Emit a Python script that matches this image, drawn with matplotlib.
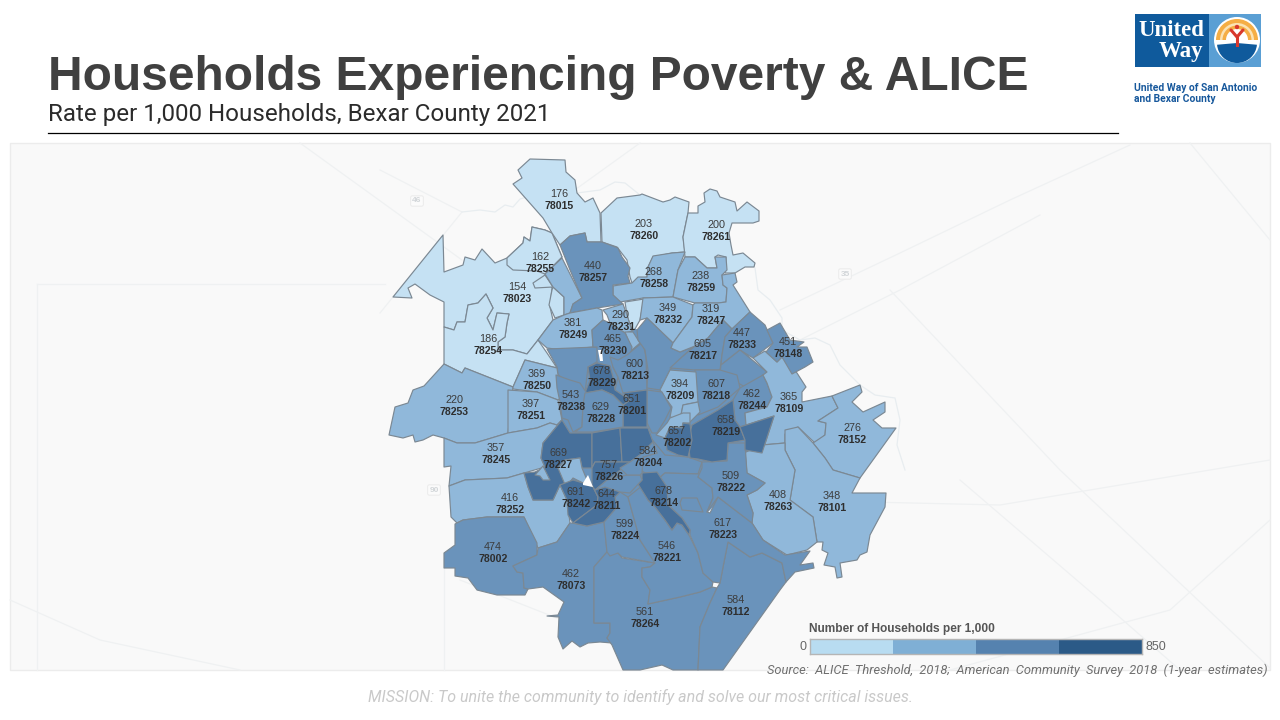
import matplotlib
matplotlib.use("Agg")
import matplotlib.pyplot as plt
from matplotlib.colors import BoundaryNorm, ListedColormap
from matplotlib.patches import Circle, Polygon, Rectangle, Wedge
import numpy as np

# labelled zip codes: code, rate, label position (pixels of the slide)
zips = ["78015", "78260", "78261", "78255", "78257", "78258", "78259", "78023", "78232", "78247",
        "78231", "78249", "78233", "78230", "78148", "78217", "78254", "78213", "78250", "78229",
        "78209", "78218", "78109", "78244", "78238", "78251", "78228", "78201", "78253", "78219",
        "78152", "78202", "78204", "78245", "78227", "78226", "78222", "78214", "78242", "78211",
        "78252", "78263", "78101", "78223", "78224", "78002", "78221", "78073", "78112", "78264"]
rates = [176, 203, 200, 162, 440, 268, 238, 154, 349, 319,
         290, 381, 447, 465, 451, 605, 186, 600, 369, 678,
         394, 607, 365, 462, 543, 397, 629, 651, 220, 658,
         276, 657, 584, 357, 669, 757, 509, 678, 691, 644,
         416, 408, 348, 617, 599, 474, 546, 462, 584, 561]
label_x = [559, 644, 716, 540, 593, 654, 701, 517, 668, 711,
           621, 573, 742, 613, 788, 703, 488, 635, 537, 602,
           680, 716, 789, 752, 571, 531, 601, 632, 454, 726,
           852, 677, 648, 496, 558, 609, 731, 664, 576, 607,
           510, 778, 832, 723, 625, 493, 667, 571, 736, 645]
label_y = [194, 224, 225, 257, 266, 272, 276, 287, 308, 309,
           315, 323, 333, 339, 342, 344, 339, 364, 374, 371,
           384, 384, 397, 394, 395, 404, 407, 399, 400, 420,
           428, 431, 451, 448, 453, 465, 476, 491, 492, 494,
           498, 495, 496, 523, 524, 547, 546, 574, 600, 612]

# areas the map shows without a label, rates are only a guess from their shade
other_zips = ["78256", "78248", "78240", "78216", "78212", "78254b", "78023b", "78023c", "78231b",
              "78207", "78237", "78210", "78203", "78239", "78264b", "78209b", "78209c", "78227b",
              "78227c", "78219b", "78220"]
other_rates = [300, 150, 500, 520, 560, 190, 155, 155, 300,
               720, 720, 560, 520, 510, 500, 380, 380, 330,
               330, 700, 560]

outlines = {
    "78023": [(393,297),(443,235),(444,272),(463,265),(465,257),(475,260),(482,249),(495,263),(507,258),(523,243),(524,237),(530,241),(532,227),(545,230),(552,233),(562,257),(545,274),(552,288),(550,307),(553,320),(538,340),(527,354),(513,350),(498,350),(498,342),(505,337),(507,323),(509,314),(497,313),(493,330),(487,318),(493,308),(486,294),(478,303),(468,305),(465,322),(457,322),(454,330),(444,327),(444,302),(430,295),(415,284),(408,288),(412,298)],
    "78254": [(444,327),(454,330),(457,322),(465,322),(468,305),(478,303),(486,294),(493,308),(487,318),(493,330),(497,313),(509,314),(507,323),(505,337),(498,342),(498,350),(513,350),(527,354),(538,340),(547,353),(557,368),(525,360),(513,387),(465,368),(462,373),(444,364)],
    "78255": [(507,258),(523,243),(524,237),(530,241),(532,227),(545,230),(552,233),(562,257),(545,274),(537,271),(513,270),(507,265)],
    "78023b": [(533,283),(545,275),(553,287),(535,288)],
    "78023c": [(553,287),(564,297),(564,315),(555,318),(549,305),(552,290)],
    "78256": [(545,274),(562,258),(582,298),(573,304),(570,313),(564,315),(564,297),(553,287)],
    "78015": [(513,184),(522,178),(518,170),(530,159),(565,160),(566,172),(575,180),(577,193),(585,202),(593,198),(600,213),(601,242),(587,242),(585,233),(570,236),(560,245),(552,233),(543,218)],
    "78260": [(601,213),(617,198),(640,195),(642,194),(663,202),(670,200),(675,197),(689,202),(688,213),(683,237),(685,252),(672,253),(653,257),(648,267),(647,277),(632,283),(630,277),(627,260),(617,247),(602,242)],
    "78261": [(689,213),(698,213),(698,206),(705,202),(704,193),(710,189),(717,191),(720,197),(735,202),(737,211),(747,202),(759,211),(759,221),(753,223),(732,223),(729,233),(731,245),(733,255),(743,253),(755,263),(754,267),(745,267),(735,273),(725,273),(726,257),(718,255),(715,257),(717,268),(707,268),(695,257),(685,257),(683,237),(688,213)],
    "78258": [(648,267),(653,256),(672,253),(685,252),(678,270),(673,297),(643,298),(620,302),(613,295),(613,286),(632,283),(638,277),(647,277)],
    "78259": [(685,257),(695,257),(707,268),(717,268),(715,257),(726,257),(727,270),(722,275),(723,285),(727,288),(726,302),(718,303),(695,303),(673,297),(678,270)],
    "78257": [(560,245),(570,236),(585,233),(587,242),(602,242),(618,248),(622,257),(630,268),(628,276),(630,283),(613,285),(613,295),(623,304),(597,308),(570,313),(573,304),(582,298),(570,270)],
    "78249": [(538,340),(553,320),(564,315),(570,313),(597,308),(602,310),(603,320),(592,330),(593,347),(563,350),(547,348)],
    "78248": [(625,302),(644,299),(640,320),(635,329),(632,331),(627,315)],
    "78231": [(603,310),(623,304),(627,315),(632,331),(625,333),(610,323),(607,315)],
    "78231b": [(625,332),(633,332),(640,343),(632,350),(627,337)],
    "78232": [(643,298),(673,297),(693,305),(692,317),(673,343),(647,318),(640,320)],
    "78240": [(547,349),(557,367),(558,375),(565,380),(585,393),(588,367),(600,360),(597,347)],
    "78230": [(592,330),(603,320),(610,323),(625,333),(632,347),(630,358),(618,360),(613,367),(618,377),(615,390),(610,366),(597,363),(597,347),(593,347)],
    "78213": [(627,355),(633,350),(643,342),(646,357),(647,390),(623,393),(618,377),(613,367),(610,357),(618,360)],
    "78216": [(637,330),(647,318),(673,343),(671,348),(680,352),(693,347),(682,357),(670,370),(660,390),(647,388),(648,370),(645,350),(638,340)],
    "78247": [(695,303),(718,303),(726,302),(727,288),(723,285),(722,275),(735,273),(737,282),(733,285),(750,312),(732,329),(723,320),(708,338),(695,346),(680,352),(671,348),(673,343),(692,317),(693,305)],
    "78217": [(723,320),(732,329),(725,337),(722,355),(720,370),(695,370),(670,368),(682,357),(695,346),(708,338)],
    "78233": [(750,312),(765,325),(773,343),(753,358),(740,350),(721,365),(722,355),(725,337),(732,329)],
    "78239": [(721,365),(740,350),(767,372),(747,388),(720,373)],
    "78218": [(695,370),(720,370),(737,375),(740,388),(718,407),(698,415),(695,400)],
    "78244": [(740,388),(763,375),(767,383),(772,397),(767,407),(745,413),(746,425),(740,427),(735,420),(733,400)],
    "78209": [(660,390),(670,370),(696,372),(698,402),(683,405),(680,420),(670,417),(672,407),(662,393)],
    "78209b": [(680,420),(683,405),(698,402),(700,412),(690,422)],
    "78209c": [(656,435),(667,423),(670,418),(683,413),(690,413),(690,423),(683,423),(682,428),(670,427),(665,438)],
    "78212": [(647,390),(662,392),(671,408),(665,420),(657,433),(652,433),(647,423)],
    "78201": [(623,393),(647,390),(647,427),(623,427),(623,405),(630,400)],
    "78229": [(588,367),(597,363),(610,366),(613,377),(615,390),(630,400),(623,405),(613,395),(602,390),(585,393),(590,380)],
    "78109": [(753,358),(765,351),(777,362),(782,357),(797,373),(806,387),(802,392),(802,402),(832,396),(838,408),(818,421),(826,423),(825,435),(815,443),(798,427),(785,434),(785,443),(762,445),(762,453),(774,416),(746,425),(745,413),(767,407),(772,397),(767,383),(763,375),(767,372)],
    "78148": [(767,330),(780,323),(790,340),(804,342),(797,347),(807,347),(813,362),(805,367),(792,374),(782,357),(777,362),(766,352),(773,343)],
    "78152": [(832,396),(860,385),(862,392),(852,402),(863,412),(885,402),(885,412),(873,420),(882,428),(896,428),(860,478),(833,470),(825,458),(813,443),(825,435),(826,423),(818,421),(838,408)],
    "78101": [(798,427),(813,443),(825,458),(833,470),(860,478),(852,493),(886,493),(885,507),(870,535),(867,552),(860,555),(857,560),(840,563),(842,577),(837,578),(835,567),(824,565),(828,553),(822,550),(823,542),(817,542),(813,517),(790,500),(795,470),(785,450),(785,430)],
    "78263": [(746,452),(762,445),(785,443),(785,450),(795,470),(790,500),(813,517),(817,542),(807,550),(787,555),(763,540),(752,523),(753,513),(747,495),(757,490),(765,483),(747,473),(745,452)],
    "78253": [(389,435),(395,407),(408,403),(413,390),(424,386),(444,364),(462,373),(465,368),(513,387),(508,433),(475,443),(457,443),(444,438),(433,435),(423,440),(415,442),(413,435),(403,438)],
    "78250": [(513,387),(525,360),(557,368),(558,375),(565,380),(570,391),(558,400),(537,392),(513,389)],
    "78251": [(508,390),(537,392),(558,400),(562,420),(557,425),(550,423),(537,428),(508,433)],
    "78238": [(556,375),(570,380),(580,383),(590,398),(583,405),(582,427),(573,432),(568,420),(562,418),(560,402),(557,388)],
    "78228": [(583,405),(585,393),(602,390),(613,395),(623,405),(623,427),(593,432),(575,432),(582,427)],
    "78245": [(444,438),(457,443),(475,443),(508,433),(537,428),(550,423),(557,425),(562,420),(543,443),(541,458),(545,467),(524,473),(507,478),(465,480),(449,486),(451,466),(444,467)],
    "78252": [(449,486),(465,480),(507,478),(524,473),(528,487),(533,500),(553,500),(560,485),(567,500),(569,515),(570,523),(557,542),(538,548),(524,517),(487,517),(463,520),(457,523),(451,517)],
    "78002": [(455,524),(463,520),(487,517),(524,517),(537,543),(537,555),(513,566),(517,572),(523,573),(524,588),(528,589),(525,595),(497,595),(477,590),(468,578),(455,576),(455,568),(444,568),(444,553),(455,545)],
    "78073": [(513,566),(537,555),(538,548),(557,542),(570,523),(573,523),(587,526),(604,522),(607,552),(594,567),(594,623),(610,623),(610,633),(607,638),(612,643),(600,642),(588,643),(580,647),(572,641),(563,649),(558,637),(559,617),(547,616),(558,615),(564,602),(543,587),(528,589),(524,588),(523,573),(517,572)],
    "78264": [(607,552),(618,553),(622,558),(655,563),(650,567),(642,568),(642,577),(650,590),(648,604),(680,597),(700,592),(712,587),(717,588),(710,603),(700,627),(698,670),(673,670),(662,665),(640,670),(623,670),(612,645),(607,638),(610,633),(610,623),(594,623),(594,567)],
    "78112": [(717,588),(720,583),(723,567),(728,542),(750,557),(762,553),(782,563),(786,582),(780,590),(723,670),(698,670),(700,627),(710,603)],
    "78220": [(650,437),(665,455),(688,457),(702,462),(698,474),(665,473),(657,480),(642,471),(643,457),(657,453)],
    "78224": [(620,492),(628,497),(640,540),(655,563),(622,557),(618,553),(610,556),(607,552),(604,522),(617,507),(615,497)],
    "78221": [(628,497),(643,485),(648,500),(655,507),(665,520),(672,530),(677,523),(682,525),(689,535),(698,553),(703,573),(713,582),(712,587),(700,592),(680,597),(648,604),(650,590),(642,577),(642,568),(650,567),(655,563),(640,540)],
    "78223": [(665,473),(700,474),(698,477),(712,488),(713,498),(707,512),(710,513),(718,497),(752,523),(763,540),(785,555),(810,551),(800,565),(813,563),(814,568),(795,572),(786,582),(782,563),(762,553),(750,557),(728,542),(723,567),(720,583),(713,582),(703,573),(698,553),(690,535),(690,530),(682,518),(668,505),(657,480)],
    "78264b": [(682,498),(697,498),(703,512),(682,510),(680,503)],
    "78222": [(702,468),(698,477),(712,488),(713,498),(707,512),(718,497),(752,523),(753,513),(747,495),(757,490),(765,483),(747,473),(745,443),(728,443),(727,461),(702,462)],
    "78214": [(642,473),(657,472),(667,487),(668,505),(682,518),(690,530),(689,535),(682,525),(677,523),(672,530),(665,520),(655,507),(648,500),(638,484),(642,480)],
    "78227": [(524,473),(535,472),(545,467),(541,458),(543,443),(562,420),(570,433),(592,433),(592,468),(582,468),(580,458),(565,460),(558,468),(573,485),(560,485),(553,500),(533,500),(528,487)],
    "78227b": [(535,475),(543,466),(550,480),(543,480),(540,476)],
    "78227c": [(558,468),(565,460),(580,458),(582,468),(587,480),(583,483),(573,478),(566,487)],
    "78242": [(560,485),(573,480),(583,483),(593,487),(598,497),(597,505),(573,523),(568,515),(567,500)],
    "78211": [(593,487),(605,483),(620,492),(615,497),(617,507),(604,522),(587,526),(573,523),(597,505),(598,497)],
    "78207": [(592,433),(620,428),(622,462),(595,462),(592,468)],
    "78237": [(620,428),(648,428),(653,442),(640,455),(630,462),(622,462)],
    "78226": [(595,462),(630,462),(608,480),(595,490),(592,485),(592,468)],
    "78210": [(607,480),(627,475),(640,475),(642,480),(630,493),(620,492),(605,487),(595,490)],
    "78204": [(653,442),(657,453),(643,457),(642,473),(640,475),(627,475),(620,468),(630,462),(640,455)],
    "78219": [(692,425),(718,410),(733,400),(735,420),(740,427),(745,440),(728,443),(727,460),(712,462),(698,459),(690,458),(688,440)],
    "78219b": [(740,427),(774,416),(762,453),(745,450),(745,440)],
    "78202": [(665,438),(670,427),(682,428),(683,423),(690,424),(692,440),(688,457),(678,455),(667,450)],
}

# core of the city, sits under the polygons so their small seams do not show white
core = [(560,360),(600,320),(640,330),(690,345),(740,345),(765,375),(760,440),(720,500),(680,540),(600,540),(560,510),(540,470),(560,400)]

# small gaps of the map left white
holes = [[(598,350),(602,350),(603,361),(600,361)], [(583,483),(588,475),(593,487),(583,485)]]

# faint base map behind the zip codes
roads = [[(380,170),(462,212),(380,313)], [(37,284),(385,284)], [(37,284),(37,670)], [(444,560),(444,670)],
         [(460,580),(600,635)], [(780,310),(900,253),(1010,200),(1130,145)], [(790,345),(900,290),(1040,215)],
         [(300,143),(462,260)], [(640,143),(540,215)], [(1180,670),(1100,600),(960,480)],
         [(1190,143),(1270,240)], [(950,670),(1170,610),(1270,520)], [(890,290),(1060,470),(1270,668)],
         [(10,600),(100,640),(240,670)], [(780,500),(1000,505),(1270,460)]]
river = [(462,212),(480,210),(495,212),(505,205),(513,207),(520,199),(537,194),(548,197),(560,190),(577,193),
         (600,190),(615,182),(625,183),(640,195)]
river2 = [(755,268),(758,290),(770,300),(782,318),(782,330),(800,340),(815,338),(830,345),(840,365),(860,385),
          (875,395),(895,398),(900,420),(897,445),(905,470)]
shields = [("46", 417, 201), ("35", 845, 274), ("90", 434, 490)]

# legend
legend_edges = [0, 212.5, 425, 637.5, 850]
legend_colors = ["#b8dcf1", "#7fafd5", "#5582af", "#2b5a87"]
map_colors = ["#c5e1f3", "#90b8da", "#6a93bb", "#47709b"]

edge_color = "#7b8893"
plt.rcParams["font.family"] = ["Liberation Sans", "DejaVu Sans"]

fig = plt.figure(figsize=(12.8, 7.2), dpi=100, facecolor="white")
ax = fig.add_axes([0, 0, 1, 1])
ax.set_xlim(0, 1280)
ax.set_ylim(720, 0)
ax.axis("off")

# map panel and base map
ax.add_patch(Rectangle((10, 143), 1260, 527, facecolor="#f9f9f9", edgecolor="#ececec", lw=1, zorder=0))
for r in roads:
    xs, ys = zip(*r)
    ax.plot(xs, ys, color="#eff1f2", lw=0.9, zorder=1)
for r in (river, river2):
    xs, ys = zip(*r)
    ax.plot(xs, ys, color="#e8edf0", lw=0.9, zorder=1)
for txt, x, y in shields:
    ax.text(x, y, txt, fontsize=6, color="#d2d6d9", fontweight="bold", ha="center", va="center", zorder=1,
            bbox=dict(boxstyle="round,pad=0.2", fc="#fbfbfb", ec="#ebebeb", lw=0.7))

# zip code polygons, shade comes from the class of the rate
cmap = ListedColormap(map_colors)
norm = BoundaryNorm(legend_edges, cmap.N)
ax.add_patch(Polygon(core, closed=True, facecolor=map_colors[2], edgecolor="none", zorder=1.5))
rate_of = dict(zip(zips + other_zips, rates + other_rates))
for code, pts in outlines.items():
    ax.add_patch(Polygon(pts, closed=True, facecolor=cmap(norm(rate_of[code])), edgecolor=edge_color,
                         lw=0.85, joinstyle="round", zorder=2))
for pts in holes:
    ax.add_patch(Polygon(pts, closed=True, facecolor="white", edgecolor="none", zorder=3))

for code, rate, x, y in zip(zips, rates, label_x, label_y):
    ax.text(x, y, str(rate), fontsize=7.8, color="#3c3c3c", ha="center", va="center", zorder=4)
    ax.text(x, y + 12, code, fontsize=7.6, color="#2e2e2e", fontweight="bold", ha="center", va="center", zorder=4)

# titles
ax.text(48, 77.5, "Households Experiencing Poverty & ALICE", fontsize=34.5, fontweight="bold", color="#404040",
        va="center", ha="left")
ax.text(48, 114, "Rate per 1,000 Households, Bexar County 2021", fontsize=17.4, color="#2b2b2b",
        family=["Roboto", "DejaVu Sans"], va="center", ha="left")
ax.plot([48, 1118], [132.5, 132.5], color="black", lw=0.9, zorder=5)

ax.text(1268, 670, "Source:  ALICE  Threshold,  2018;  American  Community  Survey  2018  (1-year  estimates)", fontsize=9.3,
        color="#6f6f6f", style="italic", family=["Roboto", "DejaVu Sans"], ha="right", va="center", zorder=5)
ax.text(640, 697, "MISSION: To unite the community to identify and solve our most critical issues.", fontsize=11.5,
        color="#c9c9c9", style="italic", family=["Roboto", "DejaVu Sans"], ha="center", va="center")

# legend bar gets its own axes running 0 to 850
lax = fig.add_axes([810 / 1280, 1 - 654 / 720, 332 / 1280, 15 / 720])
lax.barh([0], np.diff(legend_edges), left=legend_edges[:-1], height=1, color=legend_colors, linewidth=0)
lax.set_xlim(legend_edges[0], legend_edges[-1])
lax.set_ylim(-0.5, 0.5)
lax.set_xticks([])
lax.set_yticks([])
for s in lax.spines.values():
    s.set_color("#b5b5b5")
    s.set_linewidth(1)
ax.text(809, 629, "Number of Households per 1,000", fontsize=8.6, fontweight="bold", color="#555555", va="center")
ax.text(806, 647, str(legend_edges[0]), fontsize=9, color="#666666", ha="right", va="center")
ax.text(1146, 647, str(legend_edges[-1]), fontsize=9, color="#666666", ha="left", va="center")

# logo
ax.add_patch(Rectangle((1135, 14), 74, 53, facecolor="#0f5a9c", edgecolor="none"))
ax.add_patch(Rectangle((1209, 14), 52, 53, facecolor="#5a9fd4", edgecolor="none"))
ax.text(1171, 30, "United", fontsize=16.5, fontweight="bold", color="white", family=["Liberation Serif"],
        ha="center", va="center")
ax.text(1203, 51, "Way", fontsize=16.5, fontweight="bold", color="white", family=["Liberation Serif"],
        ha="right", va="center")
ax.add_patch(Circle((1237, 40), 23, facecolor="white", edgecolor="none"))
for rad, col in [(21, "#f5ae45"), (17, "#fbe3b4"), (14.5, "#f5ae45"), (11, "white")]:
    ax.add_patch(Wedge((1237, 40), rad, 180, 360, facecolor=col, edgecolor="none"))
ax.add_patch(Wedge((1237, 43), 20, 5, 175, facecolor="#0f5a9c", edgecolor="none", zorder=3))
ax.plot([1231, 1237, 1243], [30, 37, 30], color="#d8382e", lw=2.2, zorder=4, solid_capstyle="round")
ax.plot([1237, 1237], [37, 45], color="#d8382e", lw=2.2, zorder=4)
ax.add_patch(Circle((1237, 27), 2.2, facecolor="#d8382e", edgecolor="none", zorder=4))
ax.text(1134, 88, "United Way of San Antonio", fontsize=7.4, fontweight="bold", color="#17589c",
        family=["Roboto", "DejaVu Sans"], va="center")
ax.text(1134, 99, "and Bexar County", fontsize=7.4, fontweight="bold", color="#17589c",
        family=["Roboto", "DejaVu Sans"], va="center")

fig.savefig("out.png", dpi=100)
